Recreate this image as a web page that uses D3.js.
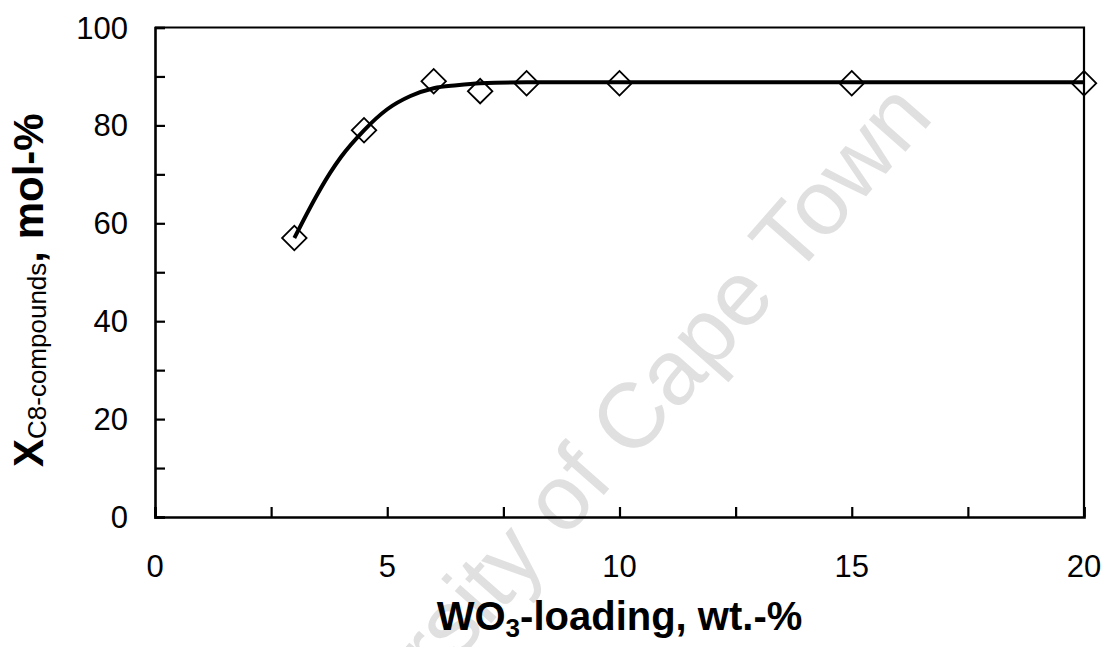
<!DOCTYPE html>
<html>
<head>
<meta charset="utf-8">
<script src="https://cdn.jsdelivr.net/npm/d3@7"></script>
<style>
  body { margin: 0; background: #fff; }
  svg { display: block; font-family: "Liberation Sans", Arial, sans-serif; }
</style>
</head>
<body>
<svg id="chart" width="1101" height="647"></svg>
<script>
// measured points (wt.-% WO3, conversion mol-%)
const loading = [3, 4.5, 6, 7, 8, 10, 15, 20]
const conversion = [57, 79, 89, 87, 88.6, 88.6, 88.6, 88.6]

// fitted curve
const fitX = [3, 3.5, 3.77, 4, 4.5, 5, 5.5, 6, 6.5, 7, 8, 10, 15, 20]
const fitY = [57, 66, 70.3, 73.5, 79, 83.3, 86, 87.6, 88.2, 88.6, 88.8, 88.8, 88.8, 88.8]

const xTicks = [0, 5, 10, 15, 20]
const xMinor = [2.5, 7.5, 12.5, 17.5]
const yTicks = [0, 20, 40, 60, 80, 100]
const yMinor = [10, 30, 50, 70, 90]

const svg = d3.select("#chart")
const plotL = 155, plotR = 1084, plotT = 27.5, plotB = 517

const x = d3.scaleLinear().domain([0, 20]).range([plotL, plotR])
const y = d3.scaleLinear().domain([0, 100]).range([plotB, plotT])

// watermark
svg.append("text")
  .attr("transform", "translate(935,118) rotate(-48.7)")
  .attr("text-anchor", "end")
  .attr("font-size", 92)
  .attr("fill", "#e0e0e0")
  .text("University of Cape Town")

// frame (top + right)
svg.append("path")
  .attr("d", `M${plotL},${plotT}H${plotR}V${plotB}`)
  .attr("fill", "none")
  .attr("stroke", "#000")
  .attr("stroke-width", 2.2)

// axes with inside ticks
const xAxis = svg.append("g")
  .attr("transform", `translate(0,${plotB})`)
  .call(d3.axisBottom(x).tickValues(xTicks.concat(xMinor)).tickSize(-10).tickFormat(""))
const yAxis = svg.append("g")
  .attr("transform", `translate(${plotL},0)`)
  .call(d3.axisLeft(y).tickValues(yTicks.concat(yMinor)).tickSize(-10).tickFormat(""))

;[xAxis, yAxis].forEach(g => {
  g.select(".domain").attr("stroke", "#000").attr("stroke-width", 2.6)
  g.selectAll(".tick line").attr("stroke", "#000").attr("stroke-width", 2.2)
})

// tick labels
svg.append("g").selectAll("text")
  .data(xTicks).join("text")
  .attr("x", d => x(d))
  .attr("y", 577)
  .attr("text-anchor", "middle")
  .attr("font-size", 31)
  .text(d => d)

svg.append("g").selectAll("text")
  .data(yTicks).join("text")
  .attr("x", 128)
  .attr("y", d => y(d) + 11)
  .attr("text-anchor", "end")
  .attr("font-size", 31)
  .text(d => d)

// fitted line
const line = d3.line()
  .x(d => x(d[0]))
  .y(d => y(d[1]))
  .curve(d3.curveMonotoneX)

svg.append("path")
  .datum(d3.zip(fitX, fitY))
  .attr("d", line)
  .attr("fill", "none")
  .attr("stroke", "#000")
  .attr("stroke-width", 4)

// diamonds
const diamond = d3.symbol().type(d3.symbolSquare).size(300)
svg.append("g").selectAll("path")
  .data(d3.zip(loading, conversion)).join("path")
  .attr("d", diamond)
  .attr("transform", d => `translate(${x(d[0])},${y(d[1])}) rotate(45)`)
  .attr("fill", "none")
  .attr("stroke", "#000")
  .attr("stroke-width", 1.8)

// x title
const xt = svg.append("text")
  .attr("x", (plotL + plotR) / 2)
  .attr("y", 630)
  .attr("text-anchor", "middle")
  .attr("font-size", 40)
  .attr("font-weight", "bold")
xt.append("tspan").text("WO")
xt.append("tspan").attr("font-size", 26).attr("dy", 7).text("3")
xt.append("tspan").attr("dy", -7).text("-loading, wt.-%")

// y title
const yt = svg.append("text")
  .attr("transform", "translate(43,467) rotate(-90)")
  .attr("font-size", 42)
  .attr("font-weight", "bold")
yt.append("tspan").text("X")
yt.append("tspan").attr("font-size", 26).attr("font-weight", "normal").attr("dy", 3).text("C8-compounds")
yt.append("tspan").attr("dy", -3).text(", mol-%")
</script>
</body>
</html>
